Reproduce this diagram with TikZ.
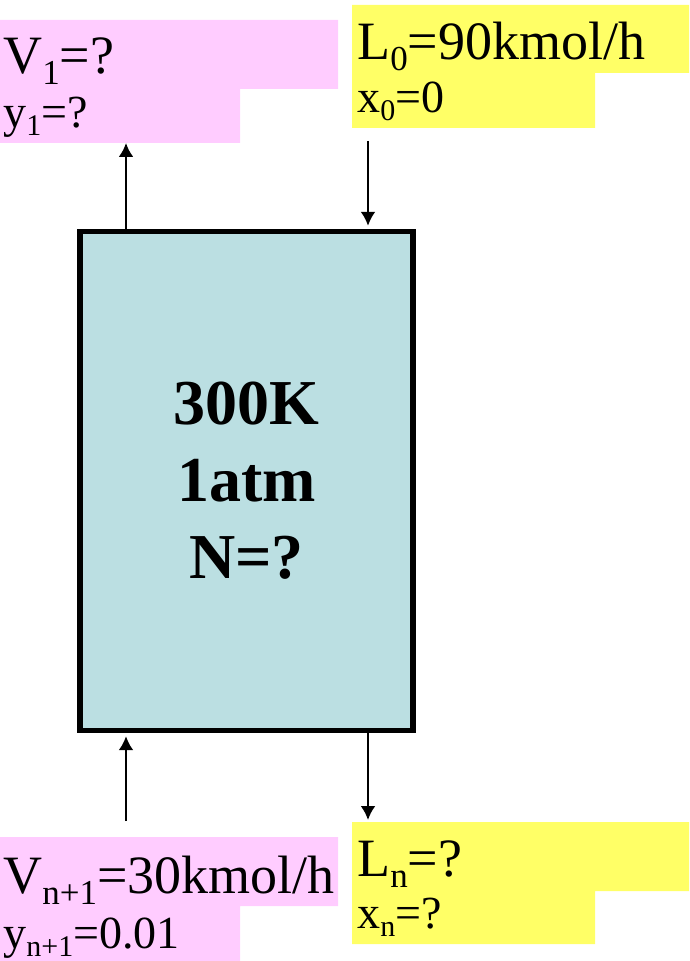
\documentclass[tikz,border=0pt]{standalone}
\usepackage{fontspec}
\setmainfont{Liberation Serif}
\usetikzlibrary{arrows.meta,calc,positioning}
\definecolor{rosa}{HTML}{FFCCFF}
\definecolor{giallo}{HTML}{FFFF66}
\definecolor{colonna}{HTML}{BBDFE2}
\newcommand{\lowsub}[1]{\raisebox{-5.5pt}{\fontsize{17.5}{17.5}\selectfont #1}}
\newcommand{\lowsubb}[1]{\raisebox{-4pt}{\fontsize{15}{15}\selectfont #1}}

\begin{document}
\begin{tikzpicture}[x=0.5pt, y=-0.5pt,
  lbl/.style={anchor=base west, inner sep=0pt, font=\fontsize{27}{30}\selectfont},
  lblb/.style={anchor=base west, inner sep=0pt, font=\fontsize{23}{26}\selectfont},
  flow/.style={line width=1.25pt, -{Latex[length=7pt,width=7.5pt]}}]
\useasboundingbox (0,0) rectangle (689,961);
% colonna di assorbimento
\node[draw, line width=2.85pt, fill=colonna, minimum width=166.5pt, minimum height=249.5pt, inner sep=0pt] (col) at (246.5,481) {};
\node[align=center, inner sep=0pt, font=\fontsize{32}{38.5}\selectfont\bfseries] (cond) at (col.center) {300K\\1atm\\N=?};
% gas in uscita (alto a sinistra)
\fill[rosa] (0,20) rectangle (338,89) (0,89) rectangle (240,143);
\node[lbl] (v1) at (3,74) {V\lowsub{1}=?};
\node[lblb] (y1) at (3,128) {y\lowsubb{1}=?};
\coordinate (v1out) at (126,143);
\draw[flow] (col.north -| v1out) -- (v1out);
% liquido in ingresso (alto a destra)
\fill[giallo] (352,5) rectangle (689,73) (352,73) rectangle (595,128);
\node[lbl] (l0) at (357,60) {L\lowsub{0}=90kmol/h};
\node[lblb] (x0) at (357,113) {x\lowsubb{0}=0};
\coordinate (l0in) at (368,141);
\draw[flow, shorten >=1.4pt] (l0in) -- (col.north -| l0in);
% gas in ingresso (basso a sinistra)
\fill[rosa] (0,837) rectangle (338,906) (0,906) rectangle (240,961);
\node[lbl] (vn1) at (3,893) {V\lowsub{n+1}=30kmol/h};
\node[lblb] (yn1) at (3,948) {y\lowsubb{n+1}=0.01};
\coordinate (vn1in) at (126,821);
\draw[flow, shorten >=1.4pt] (vn1in) -- (col.south -| vn1in);
% liquido in uscita (basso a destra)
\fill[giallo] (352,822) rectangle (689,891) (352,891) rectangle (595,944);
\node[lbl] (ln) at (357,876) {L\lowsub{n}=?};
\node[lblb] (xn) at (357,928) {x\lowsubb{n}=?};
\coordinate (lnout) at (368,820);
\draw[flow] (col.south -| lnout) -- (lnout);
\end{tikzpicture}
\end{document}
